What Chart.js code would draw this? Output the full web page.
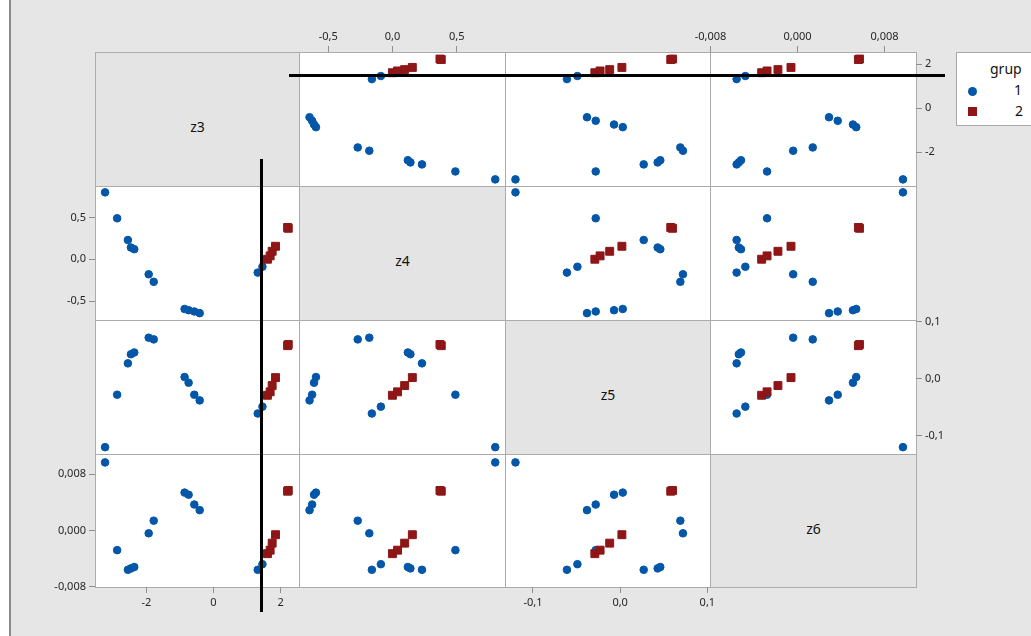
<!DOCTYPE html>
<html>
<head>
<meta charset="utf-8">
<script src="https://cdn.jsdelivr.net/npm/chart.js@4.4.1/dist/chart.umd.min.js"></script>
<style>
    body { margin: 0; width: 1031px; height: 636px; overflow: hidden; background: #fff; position: relative; font-family: 'Noto Sans', sans-serif; }
    #frame { position: absolute; left: 11px; top: 0; right: 0; bottom: 0; background: #e6e6e6; }
    #edge { position: absolute; left: 9px; top: 0; width: 2px; height: 636px; background: #8c8c8c; }
    .panel { position: absolute; box-sizing: border-box; border: 1px solid #ababab; background: #fff; }
    .panel.diag { background: #e4e4e4; display: flex; align-items: center; justify-content: center; font-size: 14px; color: #111; padding-top: 14px; }
    .plot { position: absolute; }
    .mark { position: absolute; background: #000; }
    #legend { position: absolute; left: 956px; top: 52px; width: 90px; height: 74px; box-sizing: border-box; border: 1px solid #a8a8a8; background: #fff; font-size: 14px; color: #111; }
    #legend span { position: absolute; }
</style>
</head>
<body>
<div id="frame"></div>
<div id="edge"></div>
<div id="grid"></div>
<div id="legend">
    <span style="left:33px; top:6px;">grup</span>
    <span style="left:11px; top:34px; width:9px; height:9px; border-radius:50%; background:#0356a8;"></span>
    <span style="left:57px; top:27px;">1</span>
    <span style="left:11px; top:54px; width:9px; height:9px; background:#8e1616;"></span>
    <span style="left:58px; top:48px;">2</span>
</div>

<script>
// observations (grup 1 = blue circles, grup 2 = red squares)
const varNames = ['z3', 'z4', 'z5', 'z6'];
const grup = [1, 1, 1, 1, 1, 1, 1, 1, 1, 1, 1, 1, 1, 2, 2, 2, 2, 2, 2];
const z3 = [-3.23, -2.87, -2.55, -2.46, -2.36, -1.93, -1.78, -0.86, -0.74, -0.57, -0.41, 1.32, 1.46, 1.61, 1.69, 1.75, 1.85, 2.21, 2.23];
const z4 = [0.80, 0.49, 0.23, 0.14, 0.12, -0.18, -0.27, -0.595, -0.61, -0.625, -0.645, -0.16, -0.09, 0.00, 0.04, 0.095, 0.155, 0.38, 0.37];
const z5 = [-0.120, -0.028, 0.027, 0.043, 0.046, 0.072, 0.069, 0.003, -0.007, -0.028, -0.038, -0.061, -0.049, -0.029, -0.023, -0.012, 0.002, 0.058, 0.060];
const z6 = [0.0097, -0.0028, -0.0056, -0.0054, -0.0052, -0.0004, 0.0014, 0.0054, 0.0051, 0.0037, 0.0029, -0.0056, -0.0048, -0.0033, -0.0028, -0.0018, -0.0006, 0.0056, 0.0057];

// axis limits and ticks
const z3Range = [-3.53, 2.55];
const z4Range = [-0.727, 0.876];
const z5Range = [-0.132, 0.103];
const z6Range = [-0.00805, 0.0109];
const z3Ticks = [-2, 0, 2];
const z4Ticks = [-0.5, 0, 0.5];
const z5Ticks = [-0.1, 0, 0.1];
const z6Ticks = [-0.008, 0, 0.008];
const z3TickLabels = ['-2', '0', '2'];
const z4TickLabels = ['-0,5', '0,0', '0,5'];
const z5TickLabels = ['-0,1', '0,0', '0,1'];
const z6TickLabels = ['-0,008', '0,000', '0,008'];

const vars = [z3, z4, z5, z6];
const ranges = [z3Range, z4Range, z5Range, z6Range];
const ticks = [z3Ticks, z4Ticks, z5Ticks, z6Ticks];
const tickLabels = [z3TickLabels, z4TickLabels, z5TickLabels, z6TickLabels];

const colEdges = [95, 299, 505, 710, 916];
const rowEdges = [52, 186, 320, 454, 587];
const margin = { top: 32, bottom: 30, left: 52, right: 42 };
const EXTRA = 20; // spare room round each canvas so edge labels are not cut
const BLUE = '#0356a8';
const RED = '#8e1616';
const FONT = { family: "'Noto Sans', sans-serif", size: 11 };

const grid = document.getElementById('grid');

function makeScale(v, axis, position, show) {
    return {
        type: 'linear',
        position: position,
        display: show,
        min: ranges[v][0],
        max: ranges[v][1],
        afterBuildTicks: s => { s.ticks = ticks[v].map(t => ({ value: t })); },
        afterFit: s => {
            // hidden axes take no room, shown ones a fixed band; no label overflow padding
            const size = show ? margin[position] : 0;
            if (axis === 'x') s.height = size;
            else s.width = size;
            s.paddingLeft = s.paddingRight = s.paddingTop = s.paddingBottom = 0;
        },
        ticks: {
            callback: (val, i) => tickLabels[v][i],
            font: FONT, color: '#262626', padding: 3,
            maxRotation: 0, autoSkip: false
        },
        grid: { drawOnChartArea: false, drawTicks: true, tickLength: 6, color: '#8f8f8f' },
        border: { display: false }
    };
}

function points(g, xv, yv) {
    const out = [];
    for (let i = 0; i < grup.length; i++) {
        if (grup[i] === g) out.push({ x: vars[xv][i], y: vars[yv][i] });
    }
    return out;
}

for (let r = 0; r < 4; r++) {
    for (let c = 0; c < 4; c++) {
        const x0 = colEdges[c], x1 = colEdges[c + 1];
        const y0 = rowEdges[r], y1 = rowEdges[r + 1];

        const panel = document.createElement('div');
        panel.className = r === c ? 'panel diag' : 'panel';
        panel.style.left = x0 + 'px';
        panel.style.top = y0 + 'px';
        panel.style.width = (x1 - x0 + 1) + 'px';
        panel.style.height = (y1 - y0 + 1) + 'px';
        if (r === c) panel.textContent = varNames[r];
        grid.appendChild(panel);
        if (r === c) continue;

        const showTop = r === 0 && (c === 1 || c === 3);
        const showBottom = r === 3 && (c === 0 || c === 2);
        const showLeft = c === 0 && (r === 1 || r === 3);
        const showRight = c === 3 && (r === 0 || r === 2);

        const left = x0 - (showLeft ? margin.left : 0) - EXTRA;
        const top = y0 - (showTop ? margin.top : 0) - EXTRA;
        const width = (x1 - x0) + (showLeft ? margin.left : 0) + (showRight ? margin.right : 0) + 2 * EXTRA;
        const height = (y1 - y0) + (showTop ? margin.top : 0) + (showBottom ? margin.bottom : 0) + 2 * EXTRA;

        const box = document.createElement('div');
        box.className = 'plot';
        box.style.left = left + 'px';
        box.style.top = top + 'px';
        box.style.width = width + 'px';
        box.style.height = height + 'px';
        const canvas = document.createElement('canvas');
        box.appendChild(canvas);
        document.body.appendChild(box);

        new Chart(canvas, {
            type: 'scatter',
            data: {
                datasets: [
                    { label: '1', data: points(1, c, r), order: 1, pointStyle: 'circle', pointRadius: 3.8,
                      backgroundColor: BLUE, borderColor: BLUE, borderWidth: 1 },
                    { label: '2', data: points(2, c, r), order: 0, pointStyle: 'rect', pointRadius: 5.6,
                      backgroundColor: RED, borderColor: RED, borderWidth: 1 }
                ]
            },
            options: {
                responsive: true,
                maintainAspectRatio: false,
                animation: false,
                events: [],
                layout: { padding: EXTRA, autoPadding: false },
                plugins: { legend: { display: false }, tooltip: { enabled: false } },
                scales: {
                    x: makeScale(c, 'x', showTop ? 'top' : 'bottom', showTop || showBottom),
                    y: makeScale(r, 'y', showRight ? 'right' : 'left', showLeft || showRight)
                }
            }
        });
    }
}

// the two thick black strokes drawn over the picture
const marks = [
    { left: 289, top: 74, width: 656, height: 3 },
    { left: 260, top: 159, width: 3, height: 453 }
];
marks.forEach(m => {
    const d = document.createElement('div');
    d.className = 'mark';
    d.style.left = m.left + 'px';
    d.style.top = m.top + 'px';
    d.style.width = m.width + 'px';
    d.style.height = m.height + 'px';
    document.body.appendChild(d);
});
</script>
</body>
</html>
